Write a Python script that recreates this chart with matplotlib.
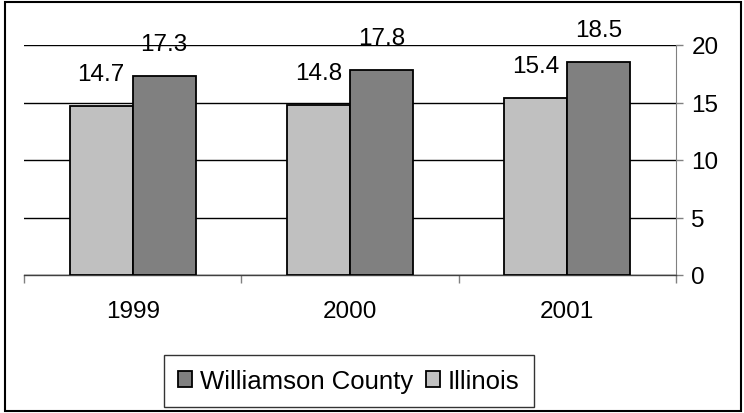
import numpy as np
import matplotlib
matplotlib.use("Agg")
import matplotlib.pyplot as plt
from matplotlib.patches import Rectangle

years = ["1999", "2000", "2001"]
illinois = [14.7, 14.8, 15.4]
williamson = [17.3, 17.8, 18.5]
yticks = [0, 5, 10, 15, 20]

plt.rcParams['font.family'] = ['Liberation Sans', 'DejaVu Sans']

fig = plt.figure(figsize=(7.44, 4.14), dpi=100)
ax = fig.add_axes([24 / 744, 1 - 276 / 414, (676 - 24) / 744, (276 - 46) / 414])

x = np.arange(len(years))
w = 0.29
b_ill = ax.bar(x - w / 2, illinois, w, color="#c0c0c0", edgecolor="black", linewidth=1.3, zorder=3, label="Illinois")
b_wil = ax.bar(x + w / 2, williamson, w, color="#808080", edgecolor="black", linewidth=1.3, zorder=3, label="Williamson County")

# data labels above each bar
for bars, vals in [(b_ill, illinois), (b_wil, williamson)]:
    for r, v in zip(bars, vals):
        ax.annotate(f"{v:.1f}", (r.get_x() + r.get_width() / 2, v), xytext=(0, 15),
                    textcoords="offset points", ha="center", va="bottom", fontsize=17.5, zorder=4)

ax.set_xlim(-0.5, 2.5)
ax.set_ylim(0, 20)
ax.set_yticks(yticks)
ax.yaxis.tick_right()
ax.tick_params(axis="y", length=5, width=1, color="#808080", labelsize=17.5, pad=6)
ax.grid(axis="y", color="black", linewidth=1, zorder=0)

ax.set_xticks(x)
ax.set_xticklabels(years)
ax.set_xticks([-0.5, 0.5, 1.5, 2.5], minor=True)
ax.tick_params(axis="x", which="major", length=0, labelsize=17.5, pad=18)
ax.tick_params(axis="x", which="minor", length=6, width=1, color="#808080")

for s in ["top", "left"]:
    ax.spines[s].set_visible(False)
ax.spines["right"].set_color("#808080")
ax.spines["bottom"].set_color("#404040")
ax.spines["bottom"].set_linewidth(1)

handles = [b_wil, b_ill]
leg = fig.legend(handles, ["Williamson County", "Illinois"], loc="center",
                 bbox_to_anchor=(349 / 744, 1 - 382 / 414), ncol=2, fontsize=18.5,
                 frameon=True, fancybox=False, edgecolor="black",
                 handlelength=0.55, handleheight=0.55, handletextpad=0.3,
                 columnspacing=0.5, borderpad=0.55, borderaxespad=0)
leg.get_frame().set_linewidth(1)

fig.patches.append(Rectangle((5 / 744, 1 - 412 / 414), 736 / 744, 409 / 414,
                             transform=fig.transFigure, fill=False, edgecolor="black", linewidth=1.5))

fig.savefig("out.png", dpi=100)
